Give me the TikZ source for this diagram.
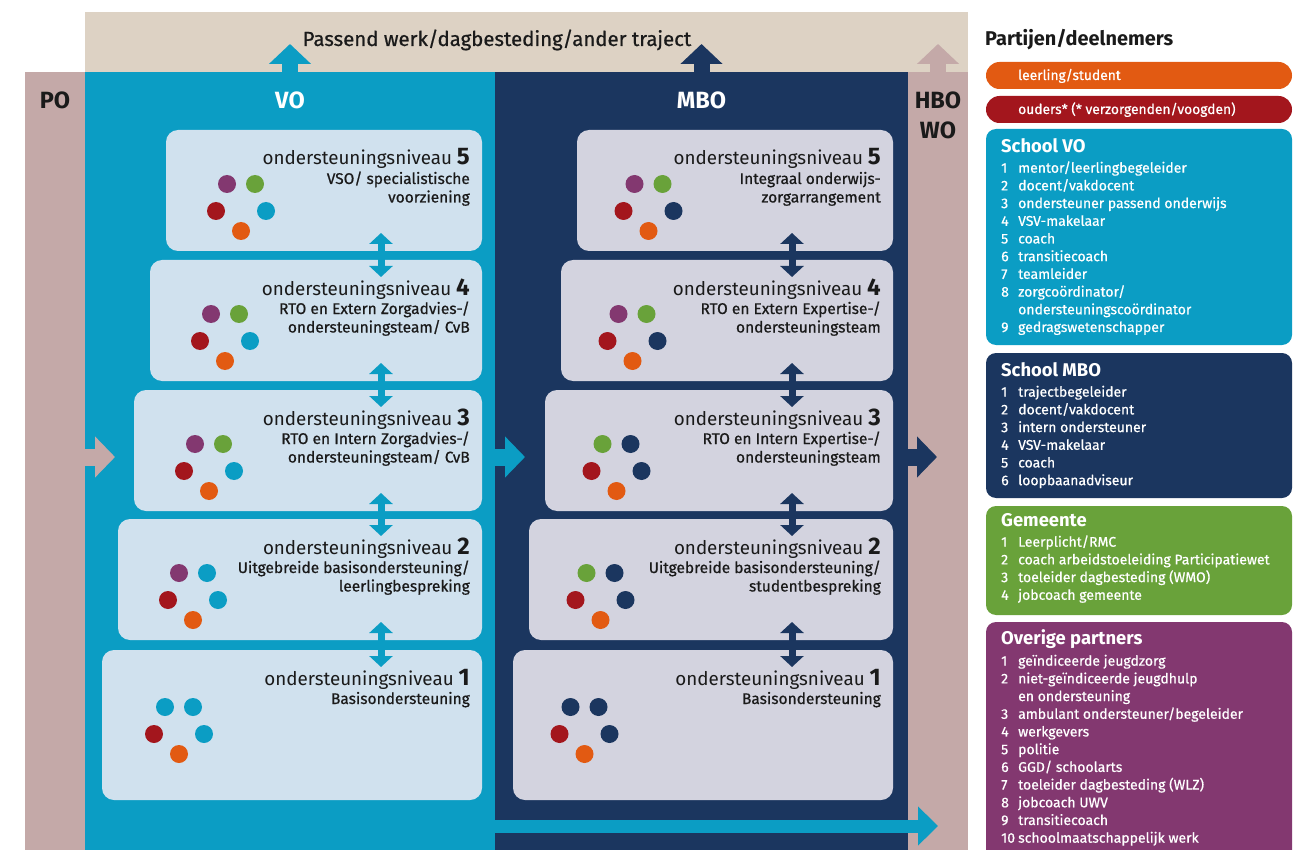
\documentclass[tikz,border=0pt]{standalone}
\usepackage{fontspec}
\setmainfont{Fira Sans}
\newfontfamily\med[FakeBold=0.7]{Fira Sans}
\usetikzlibrary{arrows.meta,calc}
\definecolor{cbeige}{HTML}{DDD2C4}
\definecolor{crose}{HTML}{C4A9A8}
\definecolor{cvo}{HTML}{0B9DC4}
\definecolor{cnavy}{HTML}{1B365F}
\definecolor{cvofill}{HTML}{D0E1EE}
\definecolor{cmbofill}{HTML}{D3D3DF}
\definecolor{cor}{HTML}{E25A12}
\definecolor{cred}{HTML}{A3161D}
\definecolor{cpur}{HTML}{833870}
\definecolor{cgrn}{HTML}{69A23A}
\definecolor{ctext}{HTML}{1A1A1A}
\tikzset{
  plain/.style={inner sep=0pt, outer sep=0pt, draw=none},
  vobox/.style={plain, fill=cvofill, rounded corners=12pt},
  mbobox/.style={plain, fill=cmbofill, rounded corners=12pt},
  legbox/.style={plain, rounded corners=10pt},
  pill/.style={plain, rounded corners=13.5pt},
  ttl/.style={inner sep=0pt, anchor=base east, text=ctext, font=\fontsize{18.8}{18.8}\selectfont},
  sub/.style={inner sep=0pt, anchor=base east, text=ctext, font=\med\fontsize{15.5}{15.5}\selectfont},
  colname/.style={inner sep=0pt, font=\bfseries\fontsize{23.5}{23.5}\selectfont},
  legtitle/.style={inner sep=0pt, anchor=base west, text=white, font=\bfseries\fontsize{18.4}{18.4}\selectfont},
  list/.style={inner sep=0pt, anchor=north west, text=white, font=\med\fontsize{14}{17.7}\selectfont},
  pilltext/.style={inner sep=0pt, anchor=base west, text=white, font=\med\fontsize{13.8}{13.8}\selectfont},
  dblvo/.style={cvo, line width=7pt, {Triangle[width=23pt,length=11pt]}-{Triangle[width=23pt,length=11pt]}},
  dblmb/.style={cnavy, line width=7pt, {Triangle[width=23pt,length=11pt]}-{Triangle[width=23pt,length=11pt]}},
  bigup/.style={line width=16pt, -{Triangle[width=41pt,length=20pt]}},
  bigright/.style={line width=17pt, -{Triangle[width=40pt,length=20pt]}},
}
% name, style, x1, y1, x2, y2
\newcommand\rbox[6]{\node[#2, minimum width={(#5)-(#3)}, minimum height={(#6)-(#4)}] (#1) at ({((#3)+(#5))/2},{((#4)+(#6))/2}) {};}
% level texts
\newcommand\lvl[4]{%
  \node[ttl] (#1t) at ($(#1.north east)+(-12,35)$) {ondersteuningsniveau {\fontsize{24}{24}\bfseries #2}};
  \node[sub] (#1a) at ($(#1.north east)+(-12,54)$) {#3};
  \node[sub] (#1b) at ($(#1.north east)+(-12,72.5)$) {#4};}
% five dots: name, dx, dy, c1..c5
\newcommand\pent[8]{%
  \fill[#4] ($(#1.north west)+({#2-14},{#3-47})$) circle (9);
  \fill[#5] ($(#1.north west)+({#2+14},{#3-47})$) circle (9);
  \fill[#6] ($(#1.north west)+({#2-25},{#3-20})$) circle (9);
  \fill[#7] ($(#1.north west)+({#2+25},{#3-20})$) circle (9);
  \fill[#8] ($(#1.north west)+({#2},{#3})$) circle (9);}
\begin{document}
\begin{tikzpicture}[x=1pt,y=-1pt]
\clip (0,0) rectangle (1306,850);
\fill[white] (0,0) rectangle (1306,850);
% columns
\rbox{top}{plain, fill=cbeige}{85}{12}{968}{72}
\rbox{po}{plain, fill=crose}{25}{72}{85}{850}
\rbox{vo}{plain, fill=cvo}{85}{72}{495}{850}
\rbox{mbo}{plain, fill=cnavy}{495}{72}{908}{850}
\rbox{hbo}{plain, fill=crose}{908}{72}{968}{850}
\node[inner sep=0pt, anchor=base, text=ctext, font=\med\fontsize{20.4}{20.4}\selectfont] (toptxt) at (497,46) {Passend werk/dagbesteding/ander traject};
% up arrows
\coordinate (vup) at (290,44);
\coordinate (mup) at (701.5,44);
\coordinate (hup) at (938,44);
\draw[bigup, cvo] ($(vo.north)+(0,1)$) -- (vup);
\draw[bigup, cnavy] ($(mbo.north)+(0,1)$) -- (mup);
\draw[bigup, crose] ($(hbo.north)+(0,1)$) -- (hup);
% column names
\node[colname, text=ctext] (pol) at (55,100) {PO};
\node[colname, text=white] (vol) at (290,100) {VO};
\node[colname, text=white] (mbol) at (701.5,100) {MBO};
\node[colname, text=ctext] (hbol) at (938,100) {HBO};
\node[colname, text=ctext] (wol) at (938,130) {WO};
% level boxes
\rbox{vo5}{vobox}{166}{130}{482}{251}
\rbox{vo4}{vobox}{150}{260}{482}{381}
\rbox{vo3}{vobox}{134}{390}{482}{511}
\rbox{vo2}{vobox}{118}{519}{482}{640}
\rbox{vo1}{vobox}{102}{650}{482}{800}
\rbox{mb5}{mbobox}{577}{130}{893}{251}
\rbox{mb4}{mbobox}{561}{260}{893}{381}
\rbox{mb3}{mbobox}{545}{390}{893}{511}
\rbox{mb2}{mbobox}{529}{519}{893}{640}
\rbox{mb1}{mbobox}{513}{650}{893}{800}
\lvl{vo5}{5}{VSO/ specialistische}{voorziening}
\lvl{vo4}{4}{RTO en Extern Zorgadvies-/}{ondersteuningsteam/ CvB}
\lvl{vo3}{3}{RTO en Intern Zorgadvies-/}{ondersteuningsteam/ CvB}
\lvl{vo2}{2}{Uitgebreide basisondersteuning/}{leerlingbespreking}
\lvl{vo1}{1}{Basisondersteuning}{}
\lvl{mb5}{5}{Integraal onderwijs-}{zorgarrangement}
\lvl{mb4}{4}{RTO en Extern Expertise-/}{ondersteuningsteam}
\lvl{mb3}{3}{RTO en Intern Expertise-/}{ondersteuningsteam}
\lvl{mb2}{2}{Uitgebreide basisondersteuning/}{studentbespreking}
\lvl{mb1}{1}{Basisondersteuning}{}
% dots
\pent{vo5}{75}{101}{cpur}{cgrn}{cred}{cvo}{cor}
\pent{vo4}{75}{101}{cpur}{cgrn}{cred}{cvo}{cor}
\pent{vo3}{75}{101}{cpur}{cgrn}{cred}{cvo}{cor}
\pent{vo2}{75}{101}{cpur}{cvo}{cred}{cvo}{cor}
\pent{vo1}{77}{104}{cvo}{cvo}{cred}{cvo}{cor}
\pent{mb5}{71.5}{101}{cpur}{cgrn}{cred}{cnavy}{cor}
\pent{mb4}{71.5}{101}{cpur}{cgrn}{cred}{cnavy}{cor}
\pent{mb3}{71.5}{101}{cgrn}{cnavy}{cred}{cnavy}{cor}
\pent{mb2}{71.5}{101}{cgrn}{cnavy}{cred}{cnavy}{cor}
\pent{mb1}{71.5}{104}{cnavy}{cnavy}{cred}{cnavy}{cor}
% double arrows between levels
\coordinate (ax) at (381,0);
\coordinate (bx) at (792,0);
\foreach \u/\l in {5/4,4/3,3/2,2/1}{
  \draw[dblvo] ($(vo\u.south -| ax)+(0,-18)$) -- ($(vo\l.north -| ax)+(0,17)$);
  \draw[dblmb] ($(mb\u.south -| bx)+(0,-18)$) -- ($(mb\l.north -| bx)+(0,17)$);
}
% horizontal arrows
\coordinate (povo) at (115,457);
\coordinate (vomb) at (525,457);
\coordinate (mbhb) at (937,457);
\coordinate (botend) at (938,826);
\draw[bigright, crose] (po.east |- povo) ++(-4,0) -- (povo);
\draw[bigright, cvo] (vo.east |- vomb) ++(-4,0) -- (vomb);
\draw[bigright, cnavy] (mbo.east |- mbhb) ++(-4,0) -- (mbhb);
\draw[cvo, line width=13pt, -{Triangle[width=38pt,length=20pt]}] (vo.east |- botend) ++(-4,0) -- (botend);
% legend
\node[inner sep=0pt, anchor=base west, text=ctext, font=\bfseries\fontsize{19.9}{19.9}\selectfont] (legh) at (985,46) {Partijen/deelnemers};
\rbox{p1}{pill, fill=cor}{986}{62}{1292}{89}
\rbox{p2}{pill, fill=cred}{986}{96}{1292}{123}
\node[pilltext] (p1t) at (1018,80) {leerling/student};
\node[pilltext] (p2t) at (1018,114) {ouders* (* verzorgenden/voogden)};
\rbox{lvo}{legbox, fill=cvo}{986}{129}{1292}{345}
\rbox{lmb}{legbox, fill=cnavy}{986}{353}{1292}{498}
\rbox{lgm}{legbox, fill=cgrn}{986}{506}{1292}{615}
\rbox{lov}{legbox, fill=cpur}{986}{622}{1292}{880}
\node[legtitle] (lvot) at (1001,152.5) {School VO};
\node[legtitle] (lmbt) at (1001,376.5) {School MBO};
\node[legtitle] (lgmt) at (1001,526.5) {Gemeente};
\node[legtitle] (lovt) at (1001,644.5) {Overige partners};
\node[list] (lvol) at (1001,160.1) {\begin{tabular}{@{}p{17pt}@{}l@{}}
1 & mentor/leerlingbegeleider\\
2 & docent/vakdocent\\
3 & ondersteuner passend onderwijs\\
4 & VSV-makelaar\\
5 & coach\\
6 & transitiecoach\\
7 & teamleider\\
8 & zorgcoördinator/\\
  & ondersteuningscoördinator\\
9 & gedragswetenschapper
\end{tabular}};
\node[list] (lmbl) at (1001,384.1) {\begin{tabular}{@{}p{17pt}@{}l@{}}
1 & trajectbegeleider\\
2 & docent/vakdocent\\
3 & intern ondersteuner\\
4 & VSV-makelaar\\
5 & coach\\
6 & loopbaanadviseur
\end{tabular}};
\node[list] (lgml) at (1001,534.1) {\begin{tabular}{@{}p{17pt}@{}l@{}}
1 & Leerplicht/RMC\\
2 & coach arbeidstoeleiding Participatiewet\\
3 & toeleider dagbesteding (WMO)\\
4 & jobcoach gemeente
\end{tabular}};
\node[list] (lovl) at (1001,653.1) {\begin{tabular}{@{}p{17pt}@{}l@{}}
1 & geïndiceerde jeugdzorg\\
2 & niet-geïndiceerde jeugdhulp\\
  & en ondersteuning\\
3 & ambulant ondersteuner/begeleider\\
4 & werkgevers\\
5 & politie\\
6 & GGD/ schoolarts\\
7 & toeleider dagbesteding (WLZ)\\
8 & jobcoach UWV\\
9 & transitiecoach\\
10 & schoolmaatschappelijk werk
\end{tabular}};
\end{tikzpicture}
\end{document}
